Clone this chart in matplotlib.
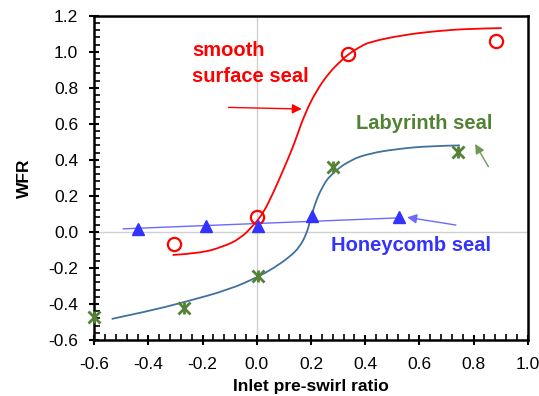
import matplotlib
matplotlib.use("Agg")
import matplotlib.pyplot as plt
from matplotlib.path import Path
from matplotlib.patches import PathPatch
from matplotlib.ticker import MultipleLocator, FormatStrFormatter

plt.rcParams['font.family'] = ['Liberation Sans', 'DejaVu Sans']

# measured points
smooth_x = [-0.306, 0.002, 0.338, 0.883]
smooth_y = [-0.069, 0.081, 0.987, 1.058]
laby_x = [-0.601, -0.268, 0.003, 0.280, 0.744]
laby_y = [-0.470, -0.424, -0.245, 0.358, 0.445]
honey_x = [-0.438, -0.189, 0.005, 0.205, 0.526]
honey_y = [0.016, 0.035, 0.031, 0.086, 0.084]

# trend curves
smooth_cx = [-0.311, -0.21, -0.124, -0.062, -0.013, 0.024, 0.061, 0.098, 0.129,
             0.147, 0.178, 0.221, 0.270, 0.307, 0.334, 0.381, 0.418, 0.541,
             0.664, 0.787, 0.904]
smooth_cy = [-0.128, -0.119, -0.082, -0.038, 0.035, 0.105, 0.218, 0.345, 0.455,
             0.528, 0.658, 0.787, 0.889, 0.944, 0.982, 1.028, 1.055, 1.093,
             1.115, 1.128, 1.131]
laby_cx = [-0.536, -0.40, -0.268, -0.099, 0.005, 0.061, 0.122, 0.159, 0.184,
           0.196, 0.215, 0.239, 0.270, 0.344, 0.418, 0.516, 0.639, 0.750]
laby_cy = [-0.483, -0.440, -0.390, -0.319, -0.249, -0.202, -0.138, -0.082, -0.008,
           0.057, 0.159, 0.242, 0.316, 0.399, 0.436, 0.460, 0.477, 0.480]
honey_cx = [-0.493, 0.526]
honey_cy = [0.017, 0.078]

red = '#FF0000'
green = '#548235'
steel = '#41719C'
blue = '#3333FF'
lblue = '#6A6AFF'


def smooth_line(ax, xs, ys, **kw):
    # quadratic bezier through midpoints, read points act as control points
    verts = [(xs[0], ys[0])]
    codes = [Path.MOVETO]
    for i in range(1, len(xs) - 1):
        mx = (xs[i] + xs[i + 1]) / 2
        my = (ys[i] + ys[i + 1]) / 2
        if i == len(xs) - 2:
            mx, my = xs[-1], ys[-1]
        verts += [(xs[i], ys[i]), (mx, my)]
        codes += [Path.CURVE3, Path.CURVE3]
    if len(xs) == 2:
        verts.append((xs[1], ys[1]))
        codes.append(Path.LINETO)
    ax.add_patch(PathPatch(Path(verts, codes), fill=False, **kw))


fig = plt.figure(figsize=(5.39, 3.96), dpi=100)
ax = fig.add_axes([0.175, 0.1414, 0.804, 0.8190])

ax.axhline(0, color='#D0D0D0', lw=1, zorder=0)
ax.axvline(0, color='#D0D0D0', lw=1, zorder=0)

smooth_line(ax, smooth_cx, smooth_cy, edgecolor=red, lw=1.3, zorder=2)
smooth_line(ax, laby_cx, laby_cy, edgecolor=steel, lw=1.3, zorder=2)
ax.plot(honey_cx, honey_cy, color=lblue, lw=1.0, zorder=2)

ax.plot(smooth_x, smooth_y, 'o', ms=9.5, mfc='none', mec=red, mew=1.6, zorder=3)
ax.plot(laby_x, laby_y, 'x', ms=9, mec=green, mew=2, zorder=3, clip_on=False)
ax.plot(laby_x, laby_y, '|', ms=9, mec=green, mew=2, zorder=3, clip_on=False)
ax.plot(honey_x, honey_y, '^', ms=9, color=blue, zorder=3)

ax.text(-0.24, 0.976, 'smooth', color=red, fontsize=14.5, fontweight='bold', va='baseline')
ax.text(-0.24, 0.834, 'surface seal', color=red, fontsize=14.5, fontweight='bold', va='baseline')
ax.text(0.366, 0.569, 'Labyrinth seal', color=green, fontsize=14.5, fontweight='bold', va='baseline')
ax.text(0.274, -0.106, 'Honeycomb seal', color=blue, fontsize=14.5, fontweight='bold', va='baseline')

ax.annotate('', xy=(0.166, 0.682), xytext=(-0.105, 0.691),
            arrowprops=dict(arrowstyle='-|>', color=red, lw=1, mutation_scale=14, shrinkA=0, shrinkB=0))
ax.annotate('', xy=(0.806, 0.488), xytext=(0.855, 0.362),
            arrowprops=dict(arrowstyle='-|>', color='#6F9A55', lw=1, mutation_scale=14, shrinkA=0, shrinkB=0))
ax.annotate('', xy=(0.555, 0.081), xytext=(0.735, 0.038),
            arrowprops=dict(arrowstyle='-|>', color=lblue, lw=1, mutation_scale=14, shrinkA=0, shrinkB=0))

ax.set_xlim(-0.6, 1.0)
ax.set_ylim(-0.6, 1.2)
ax.xaxis.set_major_locator(MultipleLocator(0.2))
ax.xaxis.set_minor_locator(MultipleLocator(0.04))
ax.yaxis.set_major_locator(MultipleLocator(0.2))
ax.yaxis.set_minor_locator(MultipleLocator(0.04))
ax.xaxis.set_major_formatter(FormatStrFormatter('%.1f'))
ax.yaxis.set_major_formatter(FormatStrFormatter('%.1f'))
ax.tick_params(which='major', direction='inout', length=7, width=1.5, labelsize=12.5)
ax.tick_params(axis='y', which='major', pad=8)
ax.tick_params(axis='x', which='major', pad=9)
ax.tick_params(which='minor', direction='in', length=4, width=1.2)
for s in ax.spines.values():
    s.set_linewidth(1.8)

ax.set_xlabel('Inlet pre-swirl ratio', fontsize=12.5, fontweight='bold', labelpad=5)
ax.set_ylabel('WFR', fontsize=12.5, fontweight='bold', labelpad=12)

fig.savefig('out.png', dpi=100)
